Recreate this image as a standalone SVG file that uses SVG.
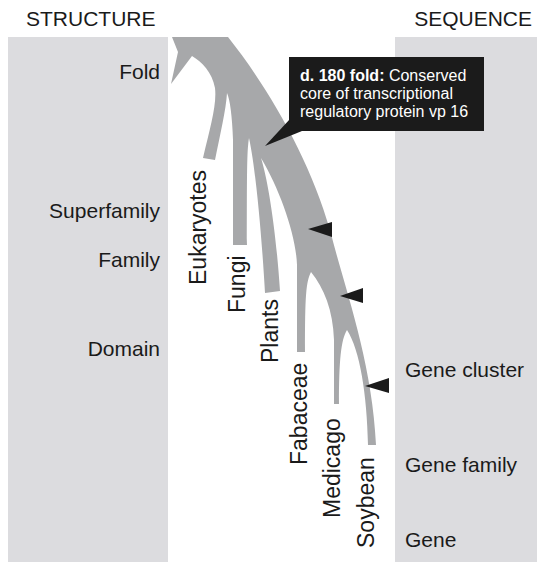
<svg xmlns="http://www.w3.org/2000/svg" width="545" height="564" viewBox="0 0 545 564">
<style>
.panel{fill:#dcdcdf}
.lbl{font-family:"Liberation Sans",Arial,sans-serif;font-size:21px;fill:#1a1a1a}
.rot{font-family:"Liberation Sans",Arial,sans-serif;font-size:23px;fill:#1a1a1a}
.tree{fill:#a7a8aa}
.mark{fill:#1b1b1b}
.call{font-family:"Liberation Sans",Arial,sans-serif;font-size:16px;fill:#ffffff}
</style>
<rect x="0" y="0" width="545" height="564" fill="#ffffff"/>
<g id="panels">
<rect id="structure-panel" class="panel" x="8" y="37" width="160" height="525"/>
<rect id="sequence-panel" class="panel" x="395" y="37" width="142" height="525"/>
</g>
<g id="titles">
<text class="lbl" x="26" y="26">STRUCTURE</text>
<text class="lbl" x="532" y="26" text-anchor="end">SEQUENCE</text>
</g>
<g id="structure-levels">
<text class="lbl" x="160" y="79" text-anchor="end">Fold</text>
<text class="lbl" x="160" y="218" text-anchor="end">Superfamily</text>
<text class="lbl" x="160" y="267" text-anchor="end">Family</text>
<text class="lbl" x="160" y="356" text-anchor="end">Domain</text>
</g>
<g id="sequence-levels">
<text class="lbl" x="405" y="377">Gene cluster</text>
<text class="lbl" x="405" y="472">Gene family</text>
<text class="lbl" x="405" y="547">Gene</text>
</g>
<g id="connectors">
<path id="tree" class="tree" d="M172,37 L228,37 C270,90 310,160 330,230 C345,290 372,360 376,445 L368,445 C367,395 360,350 347,330 C341,340 339,360 339,404 L334,404 L334,340 C333,310 324,288 311,272 C306,282 305,295 305,352 L297,352 L297,265 C296,235 280,190 261,158 C268,180 276,230 280,291 L265,293 C262,240 256,170 249,138 C247,150 247,170 247,245 L233,245 L233,140 C232,115 230,100 227,93 C226,110 220,135 215,160 L203,158 C210,128 217,105 215,88 C212,72 202,62 192,56 L171,84 L178,52 Z"/>
<polygon class="mark" points="308,229 332,222 332,237"/>
<polygon class="mark" points="340,296 363,288 363,303"/>
<polygon class="mark" points="365,386 389,378 389,393"/>
</g>
<g id="taxa">
<text class="rot" transform="translate(206,285) rotate(-90)">Eukaryotes</text>
<text class="rot" transform="translate(245,313) rotate(-90)">Fungi</text>
<text class="rot" transform="translate(278,363) rotate(-90)">Plants</text>
<text class="rot" transform="translate(307,465) rotate(-90)">Fabaceae</text>
<text class="rot" transform="translate(340,518) rotate(-90)">Medicago</text>
<text class="rot" transform="translate(374,548) rotate(-90)">Soybean</text>
</g>
<g id="callout">
<polygon class="mark" points="290,119 302,131 265,146"/>
<rect class="mark" x="289" y="57" width="195" height="74"/>
<text class="call" x="300" y="81"><tspan font-weight="bold">d. 180 fold:</tspan> Conserved</text>
<text class="call" x="300" y="99">core of transcriptional</text>
<text class="call" x="300" y="117">regulatory protein vp 16</text>
</g>
</svg>
